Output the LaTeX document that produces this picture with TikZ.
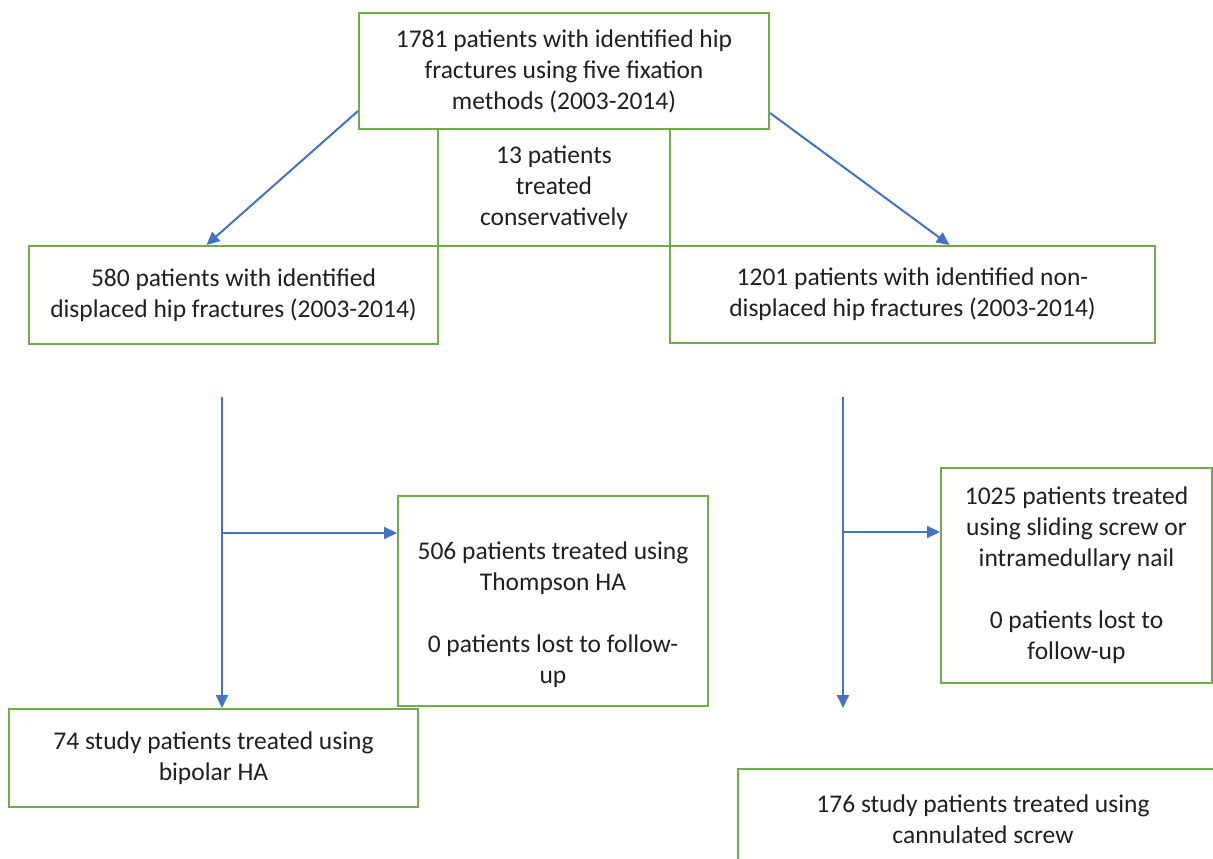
\documentclass[tikz,border=0pt]{standalone}
\usepackage{fontspec}
\setmainfont{Carlito}
\usetikzlibrary{arrows.meta}
\definecolor{gbox}{HTML}{70AD47}
\definecolor{barrow}{HTML}{4472C4}
\definecolor{txt}{HTML}{202020}
\tikzset{
 box/.style={draw=gbox, line width=2pt, inner sep=0pt, anchor=north west, align=center, text=txt, font=\fontsize{25.5}{31}\selectfont},
 conn/.style={draw=barrow, line width=2pt, -{Triangle[length=13pt,width=12pt]}},
}
\begin{document}
\begin{tikzpicture}[x=1pt,y=-1pt]
\clip (0,0) rectangle (1213,859);
\fill[white] (0,0) rectangle (1213,859);
\node[box, minimum width=410pt, minimum height=116pt] (top) at (358,12) {1781 patients with identified hip\\fractures using five fixation\\methods (2003-2014)};
\node[box, minimum width=232pt, minimum height=117pt] (cons) at (437,128) {13 patients\\treated\\conservatively};
\node[box, minimum width=409pt, minimum height=98pt] (left) at (28,245) {580 patients with identified\\displaced hip fractures (2003-2014)};
\node[box, minimum width=485pt, minimum height=97pt] (right) at (669,245) {1201 patients with identified non-\\displaced hip fractures (2003-2014)};
\node[box, minimum width=310pt, minimum height=210pt] (b506) at (397,495) {\raisebox{-21pt}[0pt][0pt]{\begin{tabular}{@{}c@{}}506 patients treated using\\Thompson HA\\ \\0 patients lost to follow-\\up\end{tabular}}};
\node[box, minimum width=271pt, minimum height=215pt] (b1025) at (940,467) {1025 patients treated\\using sliding screw or\\intramedullary nail\\ \\0 patients lost to\\follow-up};
\node[box, minimum width=409pt, minimum height=98pt] (b74) at (8,708) {74 study patients treated using\\bipolar HA};
\node[box, minimum width=490pt, minimum height=100pt] (b176) at (737,768) {176 study patients treated using\\cannulated screw};
\draw[conn] ([yshift=-40pt]top.west) -- ([xshift=-27pt]left.north);
\draw[conn] ([yshift=-42pt]top.east) -- ([xshift=37pt]right.north);
\coordinate (L0) at (222,397);
\coordinate (L1) at (222,533);
\coordinate (R0) at (843,397);
\coordinate (R1) at (843,532);
\coordinate (R2) at (843,708);
\draw[conn] (L0) -- (L0 |- b74.north);
\draw[conn] (L1) -- (L1 -| b506.west);
\draw[conn] (R0) -- (R2);
\draw[conn] (R1) -- (R1 -| b1025.west);
\end{tikzpicture}
\end{document}
